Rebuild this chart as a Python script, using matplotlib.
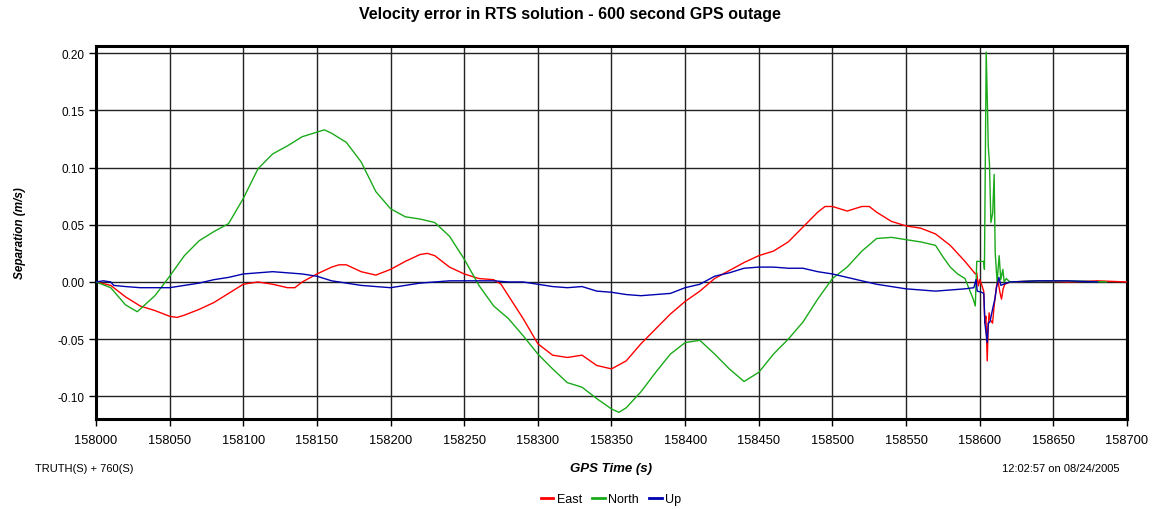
import matplotlib
matplotlib.use("Agg")
import matplotlib.pyplot as plt
from matplotlib.lines import Line2D

plt.rcParams['font.family'] = ['Liberation Sans', 'DejaVu Sans']

# ---- data ----
east_t = [158000, 158010, 158020, 158030, 158040, 158050, 158055, 158060, 158070, 158080,
          158090, 158100, 158110, 158120, 158130, 158135, 158140, 158150, 158160, 158165,
          158170, 158180, 158190, 158200, 158210, 158220, 158225, 158230, 158240, 158250,
          158260, 158270, 158275, 158280, 158290, 158300, 158310, 158320, 158330, 158340,
          158350, 158360, 158370, 158380, 158390, 158400, 158410, 158420, 158430, 158440,
          158450, 158460, 158470, 158480, 158490, 158495, 158500, 158510, 158520, 158525,
          158530, 158540, 158550, 158560, 158570, 158580, 158590, 158594.5, 158597, 158598,
          158599, 158600, 158601.5, 158602.7, 158603.5, 158604.2, 158605.1, 158605.8, 158606.4,
          158607.2, 158608.7, 158609.8, 158610.8, 158611.4, 158612.3, 158613.7, 158614.8,
          158615.9, 158617, 158620.5, 158640, 158660, 158680, 158700]
east_v = [0.000, -0.003, -0.013, -0.021, -0.025, -0.030, -0.031, -0.029, -0.024, -0.018,
          -0.010, -0.002, 0.000, -0.002, -0.005, -0.005, 0.000, 0.007, 0.013, 0.015,
          0.015, 0.009, 0.006, 0.011, 0.018, 0.024, 0.025, 0.023, 0.013, 0.007,
          0.003, 0.002, -0.002, -0.012, -0.032, -0.054, -0.064, -0.066, -0.064, -0.073,
          -0.076, -0.069, -0.054, -0.041, -0.028, -0.017, -0.008, 0.003, 0.010, 0.017,
          0.023, 0.027, 0.035, 0.048, 0.061, 0.066, 0.066, 0.062, 0.066, 0.066,
          0.061, 0.053, 0.049, 0.047, 0.042, 0.032, 0.018, 0.011, 0.007, 0.008,
          -0.0035, 0.002, -0.003, -0.008, -0.036, -0.030, -0.069, -0.038, -0.027,
          -0.033, -0.036, -0.021, -0.010, -0.0035, 0.002, -0.009, -0.015,
          -0.006, -0.002, 0.000, 0.001, 0.000, 0.001, 0.000]

north_t = [158000, 158010, 158020, 158028, 158040, 158050, 158060, 158070, 158080, 158090,
           158100, 158110, 158120, 158130, 158140, 158150, 158155, 158160, 158170, 158180,
           158190, 158200, 158210, 158220, 158230, 158240, 158250, 158260, 158270, 158280,
           158290, 158300, 158310, 158320, 158330, 158340, 158350, 158355, 158360, 158370,
           158380, 158390, 158400, 158410, 158420, 158430, 158440, 158450, 158460, 158470,
           158480, 158490, 158500, 158510, 158520, 158530, 158540, 158550, 158560, 158570,
           158575, 158580, 158585, 158590, 158595.6, 158597, 158598, 158602.7, 158603.2,
           158603.8, 158604.4, 158605.3, 158605.8, 158606.6, 158607.6, 158608.8, 158609.8,
           158610.5, 158611.8, 158613.2, 158614.3, 158615.7, 158616.6, 158618, 158620.5,
           158640, 158660, 158686]
north_v = [0.000, -0.005, -0.020, -0.026, -0.012, 0.005, 0.023, 0.036, 0.044, 0.051,
           0.073, 0.099, 0.112, 0.119, 0.127, 0.131, 0.133, 0.130, 0.122, 0.105,
           0.079, 0.064, 0.057, 0.055, 0.052, 0.040, 0.020, -0.003, -0.021, -0.032,
           -0.047, -0.063, -0.076, -0.088, -0.092, -0.102, -0.111, -0.114, -0.110, -0.096,
           -0.079, -0.063, -0.053, -0.051, -0.063, -0.076, -0.087, -0.079, -0.063, -0.050,
           -0.035, -0.015, 0.003, 0.013, 0.027, 0.038, 0.039, 0.037, 0.035, 0.032,
           0.022, 0.013, 0.007, 0.003, -0.015, -0.021, 0.018, 0.018, 0.011,
           0.104, 0.201, 0.151, 0.119, 0.104, 0.052, 0.060, 0.094,
           0.026, 0.000, 0.023, 0.002, 0.011, 0.000, 0.003, 0.000,
           0.001, 0.001, 0.000]

up_t = [158000, 158005, 158010, 158012, 158020, 158030, 158040, 158050, 158060, 158070,
        158080, 158090, 158100, 158110, 158120, 158130, 158140, 158150, 158160, 158170,
        158180, 158190, 158200, 158210, 158220, 158230, 158240, 158250, 158260, 158270,
        158280, 158290, 158300, 158310, 158320, 158330, 158340, 158350, 158360, 158370,
        158380, 158390, 158400, 158410, 158420, 158430, 158440, 158450, 158460, 158470,
        158480, 158490, 158500, 158510, 158520, 158530, 158540, 158550, 158560, 158570,
        158580, 158590, 158596, 158597.5, 158598.3, 158601.2, 158602.8, 158603.5, 158605.1,
        158605.8, 158606.9, 158609.2, 158610.3, 158611.4, 158613, 158614.4, 158616,
        158620.5, 158640, 158660, 158680]
up_v = [0.000, 0.001, 0.000, -0.003, -0.004, -0.005, -0.005, -0.005, -0.003, -0.001,
        0.002, 0.004, 0.007, 0.008, 0.009, 0.008, 0.007, 0.005, 0.001, -0.001,
        -0.003, -0.004, -0.005, -0.003, -0.001, 0.000, 0.001, 0.001, 0.001, 0.001,
        0.000, 0.000, -0.002, -0.004, -0.005, -0.004, -0.008, -0.009, -0.011, -0.012,
        -0.011, -0.010, -0.005, -0.002, 0.005, 0.008, 0.012, 0.013, 0.013, 0.012,
        0.012, 0.009, 0.007, 0.004, 0.001, -0.002, -0.004, -0.006, -0.007, -0.008,
        -0.007, -0.006, -0.005, 0.002, -0.008, -0.009, -0.010, -0.036, -0.053,
        -0.036, -0.035, -0.021, -0.015, -0.005, 0.004, -0.003, -0.002,
        0.000, 0.001, 0.001, 0.000]

series_names = ["East", "North", "Up"]
series_colors = ["#ff0000", "#1aaa1a", "#0000b0"]

xticks = list(range(158000, 158701, 50))
yticks = [-0.10, -0.05, 0.00, 0.05, 0.10, 0.15, 0.20]

# ---- figure ----
fig = plt.figure(figsize=(11.56, 5.10), dpi=100)
ax = fig.add_axes([96/1156, 1-420/510, (1127-96)/1156, (420-47)/510])

ax.plot(east_t, east_v, color=series_colors[0], lw=1.0, zorder=3)
ax.plot(north_t, north_v, color=series_colors[1], lw=1.0, zorder=3)
ax.plot(up_t, up_v, color=series_colors[2], lw=1.0, zorder=4)

ax.set_xlim(158000, 158700)
ax.set_ylim(-0.1198, 0.2063)
ax.set_xticks(xticks)
ax.set_xticklabels([str(v) for v in xticks])
ax.set_yticks(yticks)
ax.set_yticklabels([f"{v:.2f}" for v in yticks])
ax.grid(True, color="#222222", lw=1.0, zorder=1)
ax.set_axisbelow(True)
for s in ax.spines.values():
    s.set_linewidth(2.2)
    s.set_color("black")
ax.tick_params(axis="both", direction="out", length=5, width=1,
               colors="black", pad=3)
ax.tick_params(axis="y", labelsize=8.5)
ax.tick_params(axis="x", labelsize=9.3, pad=6)

ax.set_ylabel("Separation (m/s)", fontsize=8.5, fontweight="bold", fontstyle="italic",
              labelpad=16)
ax.yaxis.set_label_coords(-0.068, 0.5)

fig.text(570/1156, 1-15/510, "Velocity error in RTS solution - 600 second GPS outage",
         ha="center", va="center", fontsize=11.5, fontweight="bold")
fig.text(611/1156, 1-469/510, "GPS Time (s)", ha="center", va="center",
         fontsize=9.5, fontweight="bold", fontstyle="italic")
fig.text(35/1156, 1-469/510, "TRUTH(S) + 760(S)", ha="left", va="center", fontsize=8)
fig.text(1120/1156, 1-469/510, "12:02:57 on 08/24/2005", ha="right", va="center",
         fontsize=8)

handles = [Line2D([], [], color=c, lw=2) for c in series_colors]
fig.legend(handles, series_names, loc="center", bbox_to_anchor=(611/1156, 1-500/510),
           ncol=3, frameon=False, fontsize=9, handlelength=1.0, handletextpad=0.3,
           columnspacing=0.8)

fig.savefig("out.png", dpi=100)
